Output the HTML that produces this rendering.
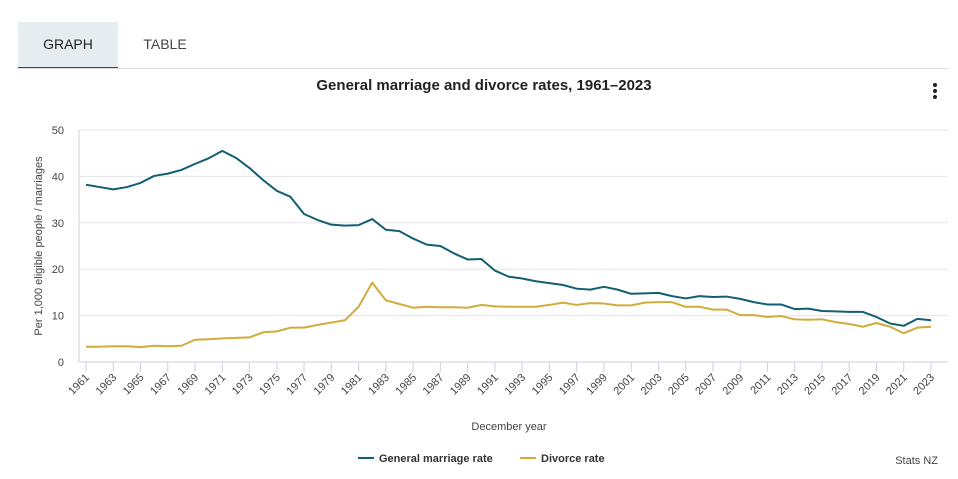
<!DOCTYPE html>
<html><head><meta charset="utf-8"><style>
body{margin:0;width:958px;height:479px;background:#fff;font-family:"Liberation Sans",sans-serif;overflow:hidden;position:relative}
.tab{position:absolute;top:22px;height:45px;line-height:45px;font-size:14px;color:#333;text-align:center}
</style></head><body>
<div class="tab" style="left:18px;width:100px;background:#e5edf0;border-bottom:2px solid #135a6e;color:#222">GRAPH</div>
<div class="tab" style="left:125px;width:80px;color:#444">TABLE</div>
<div style="position:absolute;left:18px;top:68px;width:930px;height:1px;background:#ddd"></div>
<div style="position:absolute;left:0;width:968px;top:77px;text-align:center;font-weight:bold;font-size:15px;color:#222">General marriage and divorce rates, 1961–2023</div>
<div style="position:absolute;left:930px;top:82px;width:10px;height:18px">
<div style="position:absolute;left:3px;top:1px;width:4px;height:4px;border-radius:2px;background:#222"></div>
<div style="position:absolute;left:3px;top:7px;width:4px;height:4px;border-radius:2px;background:#222"></div>
<div style="position:absolute;left:3px;top:13px;width:4px;height:4px;border-radius:2px;background:#222"></div></div>
<svg id="c" width="958" height="479" style="position:absolute;left:0;top:0"></svg>
<script>
const years=[];for(let y=1961;y<=2023;y++)years.push(y);
const marriage=[38.2,37.7,37.2,37.7,38.6,40.1,40.6,41.4,42.7,43.9,45.5,44.0,41.8,39.2,36.9,35.6,31.9,30.6,29.6,29.4,29.5,30.8,28.5,28.2,26.6,25.3,25.0,23.4,22.1,22.2,19.7,18.4,18.0,17.4,17.0,16.6,15.8,15.6,16.2,15.6,14.7,14.8,14.9,14.2,13.7,14.2,14.0,14.1,13.6,12.9,12.4,12.4,11.4,11.5,11.0,10.9,10.8,10.8,9.7,8.3,7.8,9.3,9.0];
const divorce=[3.3,3.3,3.4,3.4,3.2,3.5,3.4,3.5,4.8,4.9,5.1,5.2,5.3,6.4,6.6,7.4,7.4,8.0,8.5,9.0,11.9,17.1,13.3,12.5,11.7,11.9,11.8,11.8,11.7,12.3,12.0,11.9,11.9,11.9,12.3,12.8,12.3,12.7,12.6,12.2,12.2,12.8,12.9,12.9,11.9,11.9,11.3,11.3,10.1,10.1,9.7,9.9,9.2,9.1,9.2,8.6,8.2,7.6,8.4,7.6,6.2,7.4,7.6];
const yTicks=[0,10,20,30,40,50];
const NS="http://www.w3.org/2000/svg",svg=document.getElementById('c');
const x=y=>86+(y-1961)*(931-86)/62, yv=v=>362-v*(362-130)/50;
function mk(t,a,txt){const e=document.createElementNS(NS,t);for(const k in a)e.setAttribute(k,a[k]);if(txt!=null)e.textContent=txt;svg.appendChild(e);return e;}
yTicks.forEach(v=>{
 const g=mk('line',{x1:79,x2:948,y1:yv(v),y2:yv(v),stroke:v?'#e3e3e8':'#ccd0e0','stroke-width':1});
 
 
 const t=mk('text',{x:64,y:yv(v)+4,'text-anchor':'end','font-size':11,fill:'#444'},v);
 
 
});
const ax=mk('line',{x1:79,x2:79,y1:130,y2:362,stroke:'#ccd0e0'});


years.forEach((yr,i)=>{if(i%2)return;
 const tk=mk('line',{x1:x(yr),x2:x(yr),y1:362,y2:372,stroke:'#ccd0e0'});
 
 
 const t=mk('text',{x:x(yr)+4,y:378,'text-anchor':'end','font-size':11,fill:'#444',transform:`rotate(-45 ${x(yr)+4} 378)`},yr);
 
 
});
function line(d,c,n){const p=mk('polyline',{points:d.map((v,i)=>x(years[i])+','+yv(v)).join(' '),fill:'none',stroke:c,'stroke-width':2,'stroke-linejoin':'round'});
 
 }
line(divorce,'#d1ac3a','divorce-rate-line');
line(marriage,'#135e73','marriage-rate-line');
const yt=mk('text',{x:42,y:246,'text-anchor':'middle','font-size':11,fill:'#444',transform:'rotate(-90 42 246)'},'Per 1,000 eligible people / marriages');


const xt=mk('text',{x:509,y:430,'text-anchor':'middle','font-size':11,fill:'#444'},'December year');


[[358,'#135e73','General marriage rate','legend-marriage'],[520,'#d1ac3a','Divorce rate','legend-divorce']].forEach(([lx,c,l,n])=>{
 const g=mk('g',{});
 
 
 const ln=document.createElementNS(NS,'line');ln.setAttribute('x1',lx);ln.setAttribute('x2',lx+16);ln.setAttribute('y1',458);ln.setAttribute('y2',458);ln.setAttribute('stroke',c);ln.setAttribute('stroke-width',2);g.appendChild(ln);
 const t=document.createElementNS(NS,'text');t.setAttribute('x',lx+21);t.setAttribute('y',462);t.setAttribute('font-size',11);t.setAttribute('font-weight','bold');t.setAttribute('fill','#333');t.textContent=l;g.appendChild(t);
});
const cr=mk('text',{x:938,y:464,'text-anchor':'end','font-size':11,fill:'#444'},'Stats NZ');


</script>
</body></html>
